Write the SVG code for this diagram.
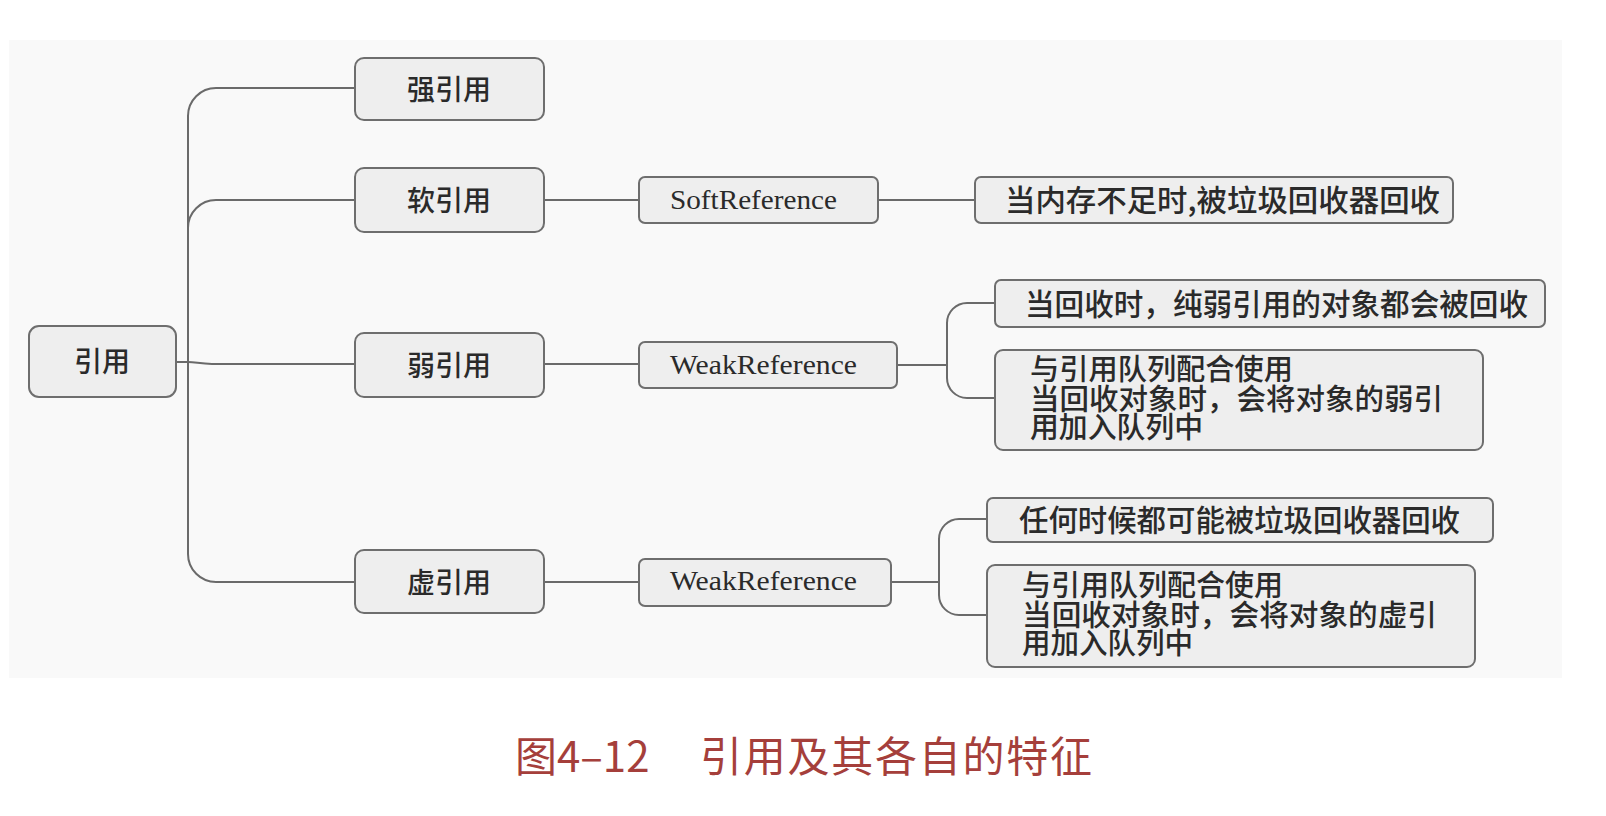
<svg xmlns="http://www.w3.org/2000/svg" width="1606" height="816" viewBox="0 0 1606 816">
<style>
.box{fill:#eeeeee;stroke:#6e6e6e;stroke-width:2}
.ln{fill:none;stroke:#6a6a6a;stroke-width:2}
.cj{font-family:"Noto Sans CJK SC","Noto Sans",sans-serif;fill:#2a2a2a;font-weight:500}
.t1{font-size:28px;text-anchor:middle}
.t2{font-size:30px}
.t3{font-size:29px}
.en{font-family:"Liberation Serif",serif;font-size:28px;fill:#2a2a2a}
.cap{font-family:"Noto Sans CJK SC",sans-serif;font-size:42px;fill:#a53f3b}
</style>
<rect width="1606" height="816" fill="#ffffff"/>
<rect x="9" y="40" width="1553" height="638" fill="#f9f9f9"/>
<g id="connectors">
<path class="ln" d="M176,362 H188"/>
<path class="ln" d="M188,362 V116 A28,28 0 0 1 216,88 H355"/>
<path class="ln" d="M188,362 V228 A28,28 0 0 1 216,200 H355"/>
<path class="ln" d="M188,362 C196,362 200,364 212,364 H355"/>
<path class="ln" d="M188,362 V554 A28,28 0 0 0 216,582 H355"/>
<path class="ln" d="M544,200 H639"/>
<path class="ln" d="M878,200 H975"/>
<path class="ln" d="M544,364 H639"/>
<path class="ln" d="M897,365 H947"/>
<path class="ln" d="M947,365 V323 A20,20 0 0 1 967,303 H995"/>
<path class="ln" d="M947,365 V378 A20,20 0 0 0 967,398 H995"/>
<path class="ln" d="M544,582 H639"/>
<path class="ln" d="M891,582 H939"/>
<path class="ln" d="M939,582 V539 A20,20 0 0 1 959,519 H987"/>
<path class="ln" d="M939,582 V595 A20,20 0 0 0 959,615 H987"/>
</g>
<g id="root">
<rect class="box" x="29" y="326" width="147" height="71" rx="10"/>
<text class="cj t1" x="102" y="372">引用</text>
</g>
<g id="strong">
<rect class="box" x="355" y="58" width="189" height="62" rx="9"/>
<text class="cj t1" x="449" y="100">强引用</text>
</g>
<g id="soft">
<rect class="box" x="355" y="168" width="189" height="64" rx="9"/>
<text class="cj t1" x="449" y="211">软引用</text>
</g>
<g id="weak">
<rect class="box" x="355" y="333" width="189" height="64" rx="9"/>
<text class="cj t1" x="449" y="376">弱引用</text>
</g>
<g id="phantom">
<rect class="box" x="355" y="550" width="189" height="63" rx="9"/>
<text class="cj t1" x="449" y="593">虚引用</text>
</g>
<g id="softref">
<rect class="box" x="639" y="177" width="239" height="46" rx="6"/>
<text class="en" x="670" y="209" textLength="167" lengthAdjust="spacingAndGlyphs">SoftReference</text>
</g>
<g id="soft-desc">
<rect class="box" x="975" y="177" width="478" height="46" rx="6"/>
<text class="cj t2" x="1005" y="211" textLength="435" lengthAdjust="spacingAndGlyphs">当内存不足时,被垃圾回收器回收</text>
</g>
<g id="weakref">
<rect class="box" x="639" y="342" width="258" height="46" rx="6"/>
<text class="en" x="670" y="374" textLength="187" lengthAdjust="spacingAndGlyphs">WeakReference</text>
</g>
<g id="weak-desc1">
<rect class="box" x="995" y="280" width="550" height="47" rx="6"/>
<text class="cj t2" x="1025" y="315" textLength="503" lengthAdjust="spacingAndGlyphs">当回收时，纯弱引用的对象都会被回收</text>
</g>
<g id="weak-desc2">
<rect class="box" x="995" y="350" width="488" height="100" rx="8"/>
<text class="cj t3" x="1030" y="380" textLength="263" lengthAdjust="spacingAndGlyphs">与引用队列配合使用</text>
<text class="cj t3" x="1030" y="410" textLength="413" lengthAdjust="spacingAndGlyphs">当回收对象时，会将对象的弱引</text>
<text class="cj t3" x="1030" y="438" textLength="173" lengthAdjust="spacingAndGlyphs">用加入队列中</text>
</g>
<g id="phantomref">
<rect class="box" x="639" y="559" width="252" height="47" rx="6"/>
<text class="en" x="670" y="590" textLength="187" lengthAdjust="spacingAndGlyphs">WeakReference</text>
</g>
<g id="phantom-desc1">
<rect class="box" x="987" y="498" width="506" height="44" rx="6"/>
<text class="cj t2" x="1019" y="531" textLength="441" lengthAdjust="spacingAndGlyphs">任何时候都可能被垃圾回收器回收</text>
</g>
<g id="phantom-desc2">
<rect class="box" x="987" y="565" width="488" height="102" rx="8"/>
<text class="cj t3" x="1022" y="596" textLength="261" lengthAdjust="spacingAndGlyphs">与引用队列配合使用</text>
<text class="cj t3" x="1022" y="626" textLength="415" lengthAdjust="spacingAndGlyphs">当回收对象时，会将对象的虚引</text>
<text class="cj t3" x="1022" y="654" textLength="171" lengthAdjust="spacingAndGlyphs">用加入队列中</text>
</g>
<g id="caption">
<text class="cap" x="515" y="772">图4–12</text>
<text class="cap" x="700" y="772" textLength="392" lengthAdjust="spacing">引用及其各自的特征</text>
</g>
</svg>
